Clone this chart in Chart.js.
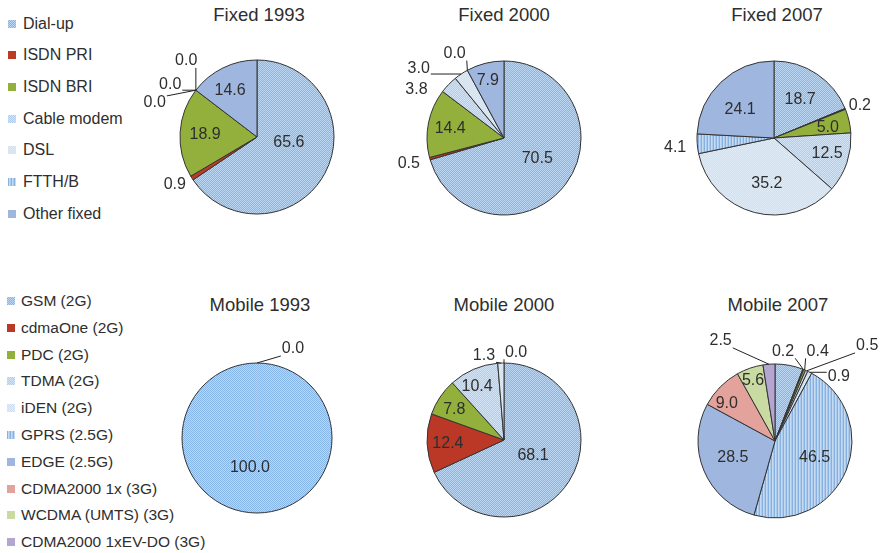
<!DOCTYPE html>
<html>
<head>
<meta charset="utf-8">
<script src="https://cdn.jsdelivr.net/npm/chart.js@4/dist/chart.umd.min.js"></script>
<style>
  body { margin: 0; width: 882px; height: 553px; position: relative; overflow: hidden; background: #fff;
         font-family: "Liberation Sans", Arial, sans-serif; color: #2e2e2e; }
  .title { position: absolute; font-size: 18.5px; line-height: 20px; transform: translateX(-50%); white-space: nowrap; }
  canvas { position: absolute; }
  .lg { position: absolute; display: flex; align-items: center; white-space: nowrap; height: 18px; }
  .sw { width: 8px; height: 8px; flex: none; }
</style>
</head>
<body>
<script>
// categories
const fixedCats = ['Dial-up', 'ISDN PRI', 'ISDN BRI', 'Cable modem', 'DSL', 'FTTH/B', 'Other fixed'];
const mobileCats = ['GSM (2G)', 'cdmaOne (2G)', 'PDC (2G)', 'TDMA (2G)', 'iDEN (2G)', 'GPRS (2.5G)',
  'EDGE (2.5G)', 'CDMA2000 1x (3G)', 'WCDMA (UMTS) (3G)', 'CDMA2000 1xEV-DO (3G)'];

// shares (%)
const fixed1993 = [65.6, 0.9, 18.9, 0.0, 0.0, 0.0, 14.6];
const fixed2000 = [70.5, 0.5, 14.4, 3.8, 3.0, 0.0, 7.9];
const fixed2007 = [18.7, 0.2, 5.0, 12.5, 35.2, 4.1, 24.1];
const mobile1993 = [100.0, 0.0, 0, 0, 0, 0, 0, 0, 0, 0];
const mobile2000 = [68.1, 12.4, 7.8, 10.4, 1.3, 0.0, 0, 0, 0, 0];
const mobile2007 = [5.9, 0.2, 0.4, 0.5, 0.9, 46.5, 28.5, 9.0, 5.6, 2.5];

// fill patterns (small tiles)
function tile(w, h, draw) {
  const c = document.createElement('canvas');
  c.width = w; c.height = h;
  draw(c.getContext('2d'));
  return c;
}
function checker(a, b) {
  return tile(2, 2, g => {
    g.fillStyle = a; g.fillRect(0, 0, 2, 2);
    g.fillStyle = b; g.fillRect(0, 0, 1, 1); g.fillRect(1, 1, 1, 1);
  });
}
const tiles = {
  dots1: checker('#86b5e8', '#bcd7f3'),
  dots2: checker('#aecdef', '#d3e4f6'),
  dots3: checker('#cfe0f3', '#e0ebf8'),
  vstripe: tile(3, 1, g => {
    g.fillStyle = '#86b1e0'; g.fillRect(0, 0, 1, 1);
    g.fillStyle = '#c6dbf2'; g.fillRect(1, 0, 1, 1);
    g.fillStyle = '#abcaec'; g.fillRect(2, 0, 1, 1);
  })
};
const pctx = document.createElement('canvas').getContext('2d');
function fill(f) {
  return tiles[f] ? pctx.createPattern(tiles[f], 'repeat') : f;
}

const fixedFills = ['dots1', '#bd3a25', '#93b03d', 'dots2', 'dots3', 'vstripe', '#9fb6df'];
const mobileFills = ['dots1', '#bb3826', '#93b03d', 'dots2', 'dots3', 'vstripe', '#9fb6df',
  '#e4a29d', '#c9dba3', '#b4a5d1'];

// label placement: [radius factor, angle shift in degrees, leader line]
const placeF1993 = [[0.42, -19], [1.23, 2.4], [0.675, -1], [1.35, 9.6, 1], [1.32, -6.1, 1], [1.40, -19, 1], [0.70, -3.6]];
const placeF2000 = [[0.51, -4.7], [1.28, 0.5], [0.71, -1], [1.30, -15], [1.43, -17, 1], [1.27, -1.9, 1], [0.78, -1.4]];
const placeF2007 = [[0.6, 0.7], [1.19, 1.8], [0.71, 2.3], [0.72, -2], [0.6, -6], [1.29, -1], [0.57, -7]];
const placeM1993 = [[0.4, 13.6], [1.28, 22, 1], null, null, null, null, null, null, null, null];
const placeM2000 = [[0.43, -3.7], [0.73, -1.6], [0.76, -2], [0.78, -3.2], [1.13, -11, 1], [1.15, 7.8, 1], null, null, null, null];
const placeM2007 = [null, [1.17, -16.5, 1], [1.29, 2.8, 1], [1.72, 19.8, 1], [1.18, 17.8, 1], [0.56, 1], [0.59, 1], [0.79, -7], [0.83, -1], [1.48, -24, 1]];

const sliceLabels = {
  id: 'sliceLabels',
  afterDatasetsDraw(chart, args, opts) {
    const ctx = chart.ctx;
    const meta = chart.getDatasetMeta(0);
    const vals = chart.data.datasets[0].data;
    ctx.save();
    ctx.lineWidth = 1;
    // a slice that fills the whole pie: plain outline, faint seam
    meta.data.forEach(arc => {
      const { x, y, circumference, outerRadius } = arc.getProps(['x', 'y', 'circumference', 'outerRadius'], true);
      if (circumference < Math.PI * 2 - 1e-6) return;
      ctx.strokeStyle = '#b4c6dc';
      ctx.beginPath();
      ctx.moveTo(x, y);
      ctx.lineTo(x, y - outerRadius);
      ctx.stroke();
      ctx.strokeStyle = '#333';
      ctx.beginPath();
      ctx.arc(x, y, outerRadius, 0, Math.PI * 2);
      ctx.stroke();
    });
    ctx.font = '16px "Liberation Sans", Arial, sans-serif';
    ctx.fillStyle = '#2e2e2e';
    ctx.strokeStyle = '#222';
    ctx.textAlign = 'center';
    ctx.textBaseline = 'middle';
    meta.data.forEach((arc, i) => {
      const p = opts.place[i];
      if (!p) return;
      const { x, y, startAngle, endAngle, outerRadius } =
        arc.getProps(['x', 'y', 'startAngle', 'endAngle', 'outerRadius'], true);
      const mid = (startAngle + endAngle) / 2;
      const a = mid + p[1] * Math.PI / 180;
      const lx = x + Math.cos(a) * outerRadius * p[0];
      const ly = y + Math.sin(a) * outerRadius * p[0];
      const txt = vals[i].toFixed(1);
      if (p[2]) {
        const ax = x + Math.cos(mid) * outerRadius;
        const ay = y + Math.sin(mid) * outerRadius;
        const hw = ctx.measureText(txt).width / 2 + 1;
        const bx = Math.min(Math.max(ax, lx - hw), lx + hw);
        const by = Math.min(Math.max(ay, ly - 7), ly + 7);
        ctx.beginPath();
        ctx.moveTo(bx, by);
        ctx.lineTo(ax, ay);
        ctx.stroke();
      }
      ctx.fillText(txt, lx, ly);
    });
    ctx.restore();
  }
};

const S = 260;
function makePie(title, cats, values, fills, place, cx, cy, r, titleX, titleY) {
  const t = document.createElement('div');
  t.className = 'title';
  t.textContent = title;
  t.style.left = titleX + 'px';
  t.style.top = (titleY - 9.5) + 'px';
  document.body.appendChild(t);

  const cv = document.createElement('canvas');
  cv.width = S; cv.height = S;
  cv.style.left = (cx - S / 2) + 'px';
  cv.style.top = (cy - S / 2) + 'px';
  document.body.appendChild(cv);

  const total = values.reduce((s, v) => s + v, 0);
  new Chart(cv.getContext('2d'), {
    type: 'pie',
    data: {
      labels: cats,
      datasets: [{
        data: values,
        backgroundColor: fills.map(fill),
        borderColor: '#333',
        // empty slices and a lone full slice get no Chart.js outline
        borderWidth: values.map(v => (v > 0 && v < total) ? 1 : 0),
        hoverOffset: 0
      }]
    },
    options: {
      responsive: false,
      animation: false,
      devicePixelRatio: 1,
      radius: r,
      layout: { padding: 0 },
      events: [],
      plugins: {
        legend: { display: false },
        tooltip: { enabled: false },
        sliceLabels: { place: place }
      }
    },
    plugins: [sliceLabels]
  });
}

function makeLegend(cats, fills, left, top0, step, fontSize, gap) {
  cats.forEach((c, i) => {
    const row = document.createElement('div');
    row.className = 'lg';
    row.style.left = left + 'px';
    row.style.top = (top0 + i * step - 9) + 'px';
    row.style.fontSize = fontSize + 'px';
    const sw = document.createElement('div');
    sw.className = 'sw';
    sw.style.marginRight = gap + 'px';
    const f = fills[i];
    if (tiles[f]) sw.style.backgroundImage = 'url(' + tiles[f].toDataURL() + ')';
    else sw.style.background = f;
    const tx = document.createElement('span');
    tx.textContent = c;
    row.appendChild(sw);
    row.appendChild(tx);
    document.body.appendChild(row);
  });
}

makeLegend(fixedCats, fixedFills, 8, 23.5, 31.7, 16, 7);
makeLegend(mobileCats, mobileFills, 7, 301, 26.8, 15.5, 6);

makePie('Fixed 1993', fixedCats, fixed1993, fixedFills, placeF1993, 257, 137, 77, 259, 14);
makePie('Fixed 2000', fixedCats, fixed2000, fixedFills, placeF2000, 504, 138, 77, 504, 14);
makePie('Fixed 2007', fixedCats, fixed2007, fixedFills, placeF2007, 774, 138, 77, 777, 14);
makePie('Mobile 1993', mobileCats, mobile1993, mobileFills, placeM1993, 257, 438, 75, 260, 304);
makePie('Mobile 2000', mobileCats, mobile2000, mobileFills, placeM2000, 504, 440, 77, 504, 304);
makePie('Mobile 2007', mobileCats, mobile2007, mobileFills, placeM2007, 775, 441, 77, 778, 304);
</script>
</body>
</html>
